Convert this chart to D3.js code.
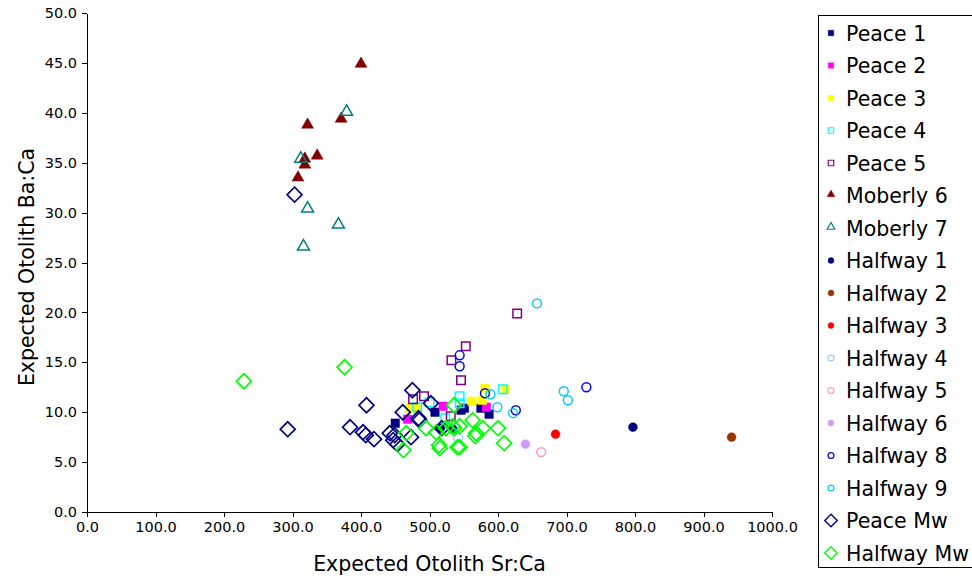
<!DOCTYPE html>
<html lang="en">
<head>
<meta charset="utf-8">
<title>Expected Otolith Sr:Ca vs Ba:Ca</title>
<script src="https://d3js.org/d3.v7.min.js"></script>
<style>
  body { margin: 0; background: #fff; }
  svg text { font-family: "DejaVu Sans", Verdana, sans-serif; fill: #000; }
  .axis path, .axis line { stroke: #000; stroke-width: 1; shape-rendering: crispEdges; }
  .axis text { font-size: 14.5px; }
</style>
</head>
<body>
<script>
// series values, [Sr:Ca, Ba:Ca]
const peace1 = [[450, 8.9], [508, 10.0], [546, 10.2], [551, 10.4], [575, 10.4], [587, 9.8]];
const peace2 = [[468, 9.3], [520, 10.6], [583, 10.5]];
const peace3 = [[471, 10.4], [481, 10.4], [562, 11.1], [577, 11.2], [581, 12.4], [611, 12.3]];
const peace4 = [[482, 10.5], [500, 11.0], [523, 9.4], [544, 11.6], [544, 10.9], [607, 12.3]];
const peace5 = [[476, 11.3], [492, 11.6], [531, 9.6], [532, 15.2], [546, 13.2], [553, 16.6], [628, 19.9]];
const moberly6 = [[400, 44.8], [322, 38.7], [371, 39.3], [336, 35.6], [318, 35.3], [318, 34.7], [308, 33.4]];
const moberly7 = [[379, 40.0], [312, 35.3], [322, 30.3], [367, 28.7], [316, 26.5]];
const halfway1 = [[797, 8.5], [516, 8.4], [534, 8.3]];
const halfway2 = [[941, 7.5]];
const halfway3 = [[684, 7.8]];
const halfway4 = [[542, 7.4]];
const halfway5 = [[663, 6.0]];
const halfway6 = [[640, 6.8]];
const halfway8 = [[544, 15.7], [544, 14.6], [581, 11.9], [626, 10.2], [729, 12.5]];
const halfway9 = [[589, 11.8], [599, 10.5], [622, 9.9], [696, 12.1], [702, 11.2], [657, 20.9]];
const peaceMw = [[303, 31.8], [293, 8.3], [384, 8.5], [408, 10.7], [403, 8.0], [407, 7.7], [419, 7.3],
                 [475, 12.2], [461, 10.0], [484, 9.4], [502, 10.9], [442, 7.9], [449, 7.7], [447, 7.2],
                 [453, 6.8], [473, 7.5], [518, 8.4], [485, 9.2]];
const halfwayMw = [[229, 13.1], [376, 14.5], [462, 6.2], [466, 7.9], [495, 8.4], [510, 8.0], [514, 6.7],
                   [515, 6.4], [524, 8.4], [536, 10.7], [534, 8.6], [536, 8.4], [544, 8.6], [541, 6.5],
                   [544, 6.5], [563, 9.2], [578, 8.4], [568, 7.9], [567, 7.6], [600, 8.4], [609, 6.9]];

const xTicks = [0, 100, 200, 300, 400, 500, 600, 700, 800, 900, 1000];
const yTicks = [0, 5, 10, 15, 20, 25, 30, 35, 40, 45, 50];

// series list: name, values, marker look
const series = [
  {name: "Peace 1", values: peace1, color: "#000080", shape: "square", filled: true},
  {name: "Peace 2", values: peace2, color: "#FF00FF", shape: "square", filled: true},
  {name: "Peace 3", values: peace3, color: "#FFFF00", shape: "square", filled: true},
  {name: "Peace 4", values: peace4, color: "#00FFFF", shape: "square", filled: false},
  {name: "Peace 5", values: peace5, color: "#800080", shape: "square", filled: false},
  {name: "Moberly 6", values: moberly6, color: "#800000", shape: "triangle", filled: true},
  {name: "Moberly 7", values: moberly7, color: "#008080", shape: "triangle", filled: false},
  {name: "Halfway 1", values: halfway1, color: "#000080", shape: "circle", filled: true},
  {name: "Halfway 2", values: halfway2, color: "#993300", shape: "circle", filled: true},
  {name: "Halfway 3", values: halfway3, color: "#FF0000", shape: "circle", filled: true},
  {name: "Halfway 4", values: halfway4, color: "#99CCFF", shape: "circle", filled: false},
  {name: "Halfway 5", values: halfway5, color: "#FF99CC", shape: "circle", filled: false},
  {name: "Halfway 6", values: halfway6, color: "#CC99FF", shape: "circle", filled: true},
  {name: "Halfway 8", values: halfway8, color: "#0000FF", shape: "circle", filled: false},
  {name: "Halfway 9", values: halfway9, color: "#00CCFF", shape: "circle", filled: false},
  {name: "Peace Mw", values: peaceMw, color: "#000080", shape: "diamond", filled: false},
  {name: "Halfway Mw", values: halfwayMw, color: "#00FF00", shape: "diamond", filled: false}
];

const width = 972, height = 577;
const plot = {left: 87, right: 772, top: 13, bottom: 512};

const svg = d3.select("body").append("svg")
    .attr("width", width)
    .attr("height", height);

const x = d3.scaleLinear().domain([0, 1000]).range([plot.left, plot.right]);
const y = d3.scaleLinear().domain([0, 50]).range([plot.bottom, plot.top]);

// marker paths
function marker(shape, big) {
  if (shape == "square") return d3.symbol().type(d3.symbolSquare).size(big ? 72 : 42)();
  if (shape == "triangle") return d3.symbol().type(d3.symbolTriangle).size(big ? 62 : 36)();
  if (shape == "circle") return d3.symbol().type(d3.symbolCircle).size(big ? 62 : 38)();
  return d3.symbol().type(d3.symbolSquare).size(big ? 112 : 78)();
}
function markerTransform(shape, px, py) {
  let t = "translate(" + px + "," + py + ")";
  if (shape == "diamond") t += " rotate(45)";
  if (shape == "triangle") t += " translate(0,-1)";
  return t;
}

// axes
svg.append("g")
    .attr("class", "axis")
    .attr("transform", "translate(0," + plot.bottom + ")")
    .call(d3.axisBottom(x).tickValues(xTicks).tickFormat(d3.format(".1f"))
          .tickSize(5).tickSizeOuter(0).tickPadding(5));

svg.append("g")
    .attr("class", "axis")
    .attr("transform", "translate(" + plot.left + ",0)")
    .call(d3.axisLeft(y).tickValues(yTicks).tickFormat(d3.format(".1f"))
          .tickSize(5).tickSizeOuter(0).tickPadding(5));

// points
series.forEach(s => {
  svg.append("g")
    .selectAll("path")
    .data(s.values)
    .enter()
    .append("path")
    .attr("d", marker(s.shape, true))
    .attr("transform", d => markerTransform(s.shape, x(d[0]), y(d[1])))
    .attr("fill", s.filled ? s.color : "none")
    .attr("stroke", s.color)
    .attr("stroke-width", s.filled ? 0.5 : (s.shape == "diamond" ? 1.7 : 1.5));
});

// axis titles
svg.append("text")
    .attr("x", (plot.left + plot.right) / 2)
    .attr("y", 571)
    .attr("text-anchor", "middle")
    .style("font-size", "20.5px")
    .text("Expected Otolith Sr:Ca");

svg.append("text")
    .attr("transform", "translate(34,267) rotate(-90)")
    .attr("text-anchor", "middle")
    .style("font-size", "20.5px")
    .text("Expected Otolith Ba:Ca");

// legend
const legend = svg.append("g");
legend.append("rect")
    .attr("x", 818.5).attr("y", 15.5)
    .attr("width", 170).attr("height", 552)
    .attr("fill", "#fff").attr("stroke", "#000").attr("stroke-width", 1);

series.forEach((s, i) => {
  const ly = 33 + i * 32.5;
  const isDiamond = s.shape == "diamond";
  legend.append("path")
      .attr("d", marker(s.shape, false))
      .attr("transform", markerTransform(s.shape, 831, ly) + (isDiamond ? "" : " scale(0.85)"))
      .attr("fill", s.filled ? s.color : "none")
      .attr("stroke", s.color)
      .attr("stroke-width", s.filled ? 0.5 : 1.4);
  legend.append("text")
      .attr("x", 846)
      .attr("y", ly + 7.5)
      .style("font-size", "20.5px")
      .text(s.name);
});
</script>
</body>
</html>
